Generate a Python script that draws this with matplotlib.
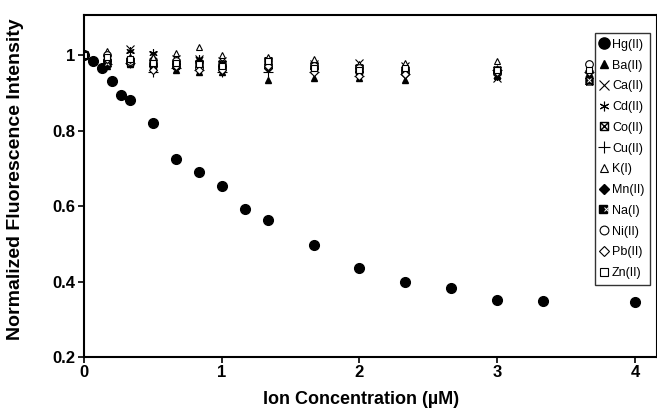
import matplotlib
matplotlib.use("Agg")
import matplotlib.pyplot as plt
from matplotlib.path import Path
from matplotlib.legend_handler import HandlerTuple

plt.rcParams['font.family'] = ['Liberation Sans', 'DejaVu Sans']

# Hg(II) data
hg_x = [0, 0.067, 0.133, 0.2, 0.267, 0.333, 0.5, 0.667, 0.833, 1.0, 1.167, 1.333,
        1.667, 2.0, 2.333, 2.667, 3.0, 3.333, 4.0]
hg_y = [1.0, 0.985, 0.965, 0.93, 0.893, 0.88, 0.82, 0.724, 0.69, 0.652, 0.593, 0.563,
        0.497, 0.435, 0.40, 0.383, 0.35, 0.348, 0.345]

# other ions
other_x = [0, 0.167, 0.333, 0.5, 0.667, 0.833, 1.0, 1.333, 1.667, 2.0, 2.333, 3.0, 3.667]
ba_y = [1, 0.97, 0.975, 0.965, 0.96, 0.955, 0.955, 0.935, 0.94, 0.94, 0.935, 0.945, 0.945]
ca_y = [1, 0.99, 1.015, 1.0, 0.99, 0.99, 0.985, 0.98, 0.975, 0.98, 0.97, 0.94, 0.95]
cd_y = [1, 0.985, 1.01, 1.005, 0.985, 0.99, 0.97, 0.99, 0.975, 0.96, 0.96, 0.945, 0.95]
co_y = [1, 0.98, 0.985, 0.98, 0.975, 0.975, 0.975, 0.985, 0.97, 0.965, 0.96, 0.96, 0.93]
cu_y = [1, 0.975, 0.98, 0.955, 0.965, 0.96, 0.955, 0.955, 0.955, 0.945, 0.95, 0.96, 0.955]
k_y = [1, 1.01, 0.995, 0.995, 1.005, 1.02, 1.0, 0.995, 0.99, 0.975, 0.98, 0.985, 0.97]
mn_y = [1, 0.985, 0.985, 0.97, 0.975, 0.985, 0.97, 0.965, 0.965, 0.955, 0.95, 0.96, 0.955]
na_y = [1, 0.98, 0.98, 0.97, 0.97, 0.975, 0.965, 0.975, 0.96, 0.955, 0.955, 0.955, 0.935]
ni_y = [1, 1.0, 0.985, 0.975, 0.985, 0.965, 0.965, 0.97, 0.97, 0.965, 0.96, 0.955, 0.975]
pb_y = [1, 0.99, 0.99, 0.96, 0.97, 0.96, 0.96, 0.97, 0.955, 0.945, 0.95, 0.955, 0.955]
zn_y = [1, 0.995, 0.99, 0.98, 0.98, 0.975, 0.97, 0.985, 0.965, 0.96, 0.965, 0.96, 0.96]

x_ticks = [0, 1, 2, 3, 4]
y_ticks = [0.2, 0.4, 0.6, 0.8, 1.0]
y_ticklabels = ['0.2', '0.4', '0.6', '0.8', '1']

fig = plt.figure(figsize=(6.57, 4.2), dpi=100)
ax = fig.add_axes([84/657, 1-357/420, 1-84/657, (357-15)/420])

boxx = Path([(-1, -1), (1, -1), (1, 1), (-1, 1), (-1, -1), (-1, -1), (1, 1), (-1, 1), (1, -1)],
            [Path.MOVETO, Path.LINETO, Path.LINETO, Path.LINETO, Path.LINETO,
             Path.MOVETO, Path.LINETO, Path.MOVETO, Path.LINETO])

ms = 5
handles = []
h, = ax.plot(hg_x, hg_y, 'o', color='black', ms=7, ls='none', label='Hg(II)')
handles.append(h)
h, = ax.plot(other_x, ba_y, '^', color='black', ms=ms, ls='none', label='Ba(II)')
handles.append(h)
h, = ax.plot(other_x, ca_y, 'x', color='black', ms=ms+1, mew=0.8, ls='none', label='Ca(II)')
handles.append(h)
h, = ax.plot(other_x, cd_y, marker=(6, 2, 0), color='black', ms=ms+1, mew=0.8, ls='none', label='Cd(II)')
handles.append(h)
h, = ax.plot(other_x, co_y, marker=boxx, mfc='none', mec='black', ms=ms, mew=1.0, ls='none', label='Co(II)')
handles.append(h)
h, = ax.plot(other_x, cu_y, '+', color='black', ms=ms+2, mew=0.8, ls='none', label='Cu(II)')
handles.append(h)
h, = ax.plot(other_x, k_y, '^', mfc='white', mec='black', ms=ms, mew=0.8, ls='none', label='K(I)')
handles.append(h)
h, = ax.plot(other_x, mn_y, 'D', color='black', ms=ms-0.5, ls='none', label='Mn(II)')
handles.append(h)
h1, = ax.plot(other_x, na_y, 's', color='black', ms=ms-0.5, ls='none')
h2, = ax.plot(other_x, na_y, 'x', color='white', ms=ms-2, mew=0.7, ls='none')
handles.append((h1, h2))
h, = ax.plot(other_x, ni_y, 'o', mfc='white', mec='black', ms=ms+0.5, mew=0.8, ls='none', label='Ni(II)')
handles.append(h)
h, = ax.plot(other_x, pb_y, 'D', mfc='white', mec='black', ms=ms-0.5, mew=0.8, ls='none', label='Pb(II)')
handles.append(h)
h, = ax.plot(other_x, zn_y, 's', mfc='white', mec='black', ms=ms-0.5, mew=0.8, ls='none', label='Zn(II)')
handles.append(h)

labels = ['Hg(II)', 'Ba(II)', 'Ca(II)', 'Cd(II)', 'Co(II)', 'Cu(II)', 'K(I)', 'Mn(II)',
          'Na(I)', 'Ni(II)', 'Pb(II)', 'Zn(II)']
leg = ax.legend(handles, labels, loc='upper left', bbox_to_anchor=(0.892, 0.947),
                handler_map={tuple: HandlerTuple(ndivide=None, pad=0)},
                frameon=True, fancybox=False, edgecolor='black', fontsize=9,
                handlelength=0.6, handletextpad=0.3, labelspacing=0.7,
                borderpad=0.45, borderaxespad=0, markerscale=1.15)
leg.get_frame().set_linewidth(1.0)

ax.set_xlim(0, 4.16)
ax.set_ylim(0.2, 1.106)
ax.set_xticks(x_ticks)
ax.set_xticklabels([str(v) for v in x_ticks])
ax.set_yticks(y_ticks)
ax.set_yticklabels(y_ticklabels)
for lab in ax.get_xticklabels() + ax.get_yticklabels():
    lab.set_fontweight('bold')
    lab.set_fontsize(12)
ax.tick_params(direction='out', length=4, width=1.2, pad=2)
for s in ax.spines.values():
    s.set_linewidth(1.5)
ax.set_xlabel('Ion Concentration (\u00b5M)', fontsize=13, fontweight='bold')
ax.set_ylabel('Normalized Fluorescence Intensity', fontsize=14, fontweight='bold')
ax.xaxis.set_label_coords(0.483, -0.1)
ax.yaxis.set_label_coords(-0.105, 0.52)

fig.savefig('out.png', dpi=100)
